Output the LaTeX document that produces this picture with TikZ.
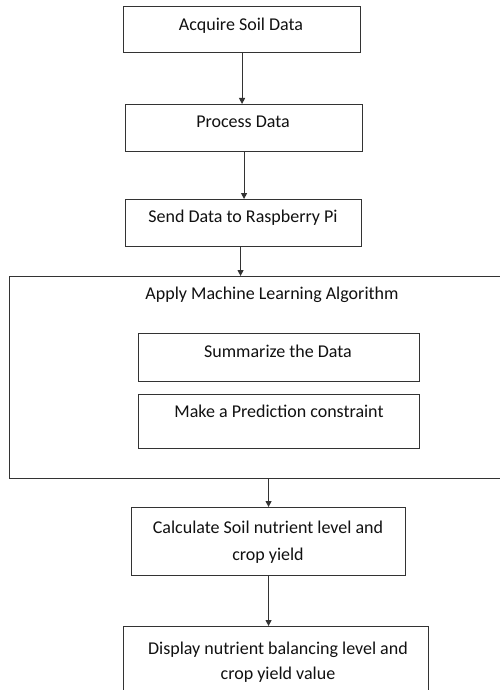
\documentclass[tikz,border=0pt]{standalone}
\usepackage{fontspec}
\setmainfont{Carlito}
\usetikzlibrary{arrows.meta}
\definecolor{linecol}{HTML}{333333}
\definecolor{txtcol}{HTML}{111111}
\begin{document}
\begin{tikzpicture}[x=1pt,y=-1pt,
  box/.style={draw=linecol,line width=1.1pt,inner sep=0pt,anchor=north west,rectangle},
  txt/.style={anchor=base,inner sep=0pt,font=\fontsize{18}{27}\selectfont,text=txtcol},
  arr/.style={draw=linecol,line width=1.1pt,-{Triangle[length=6pt,width=6pt]}}]
\fill[white] (0,0) rectangle (500,690);
\clip (0,0) rectangle (500,690);
% boxes
\node[box,minimum width=237pt,minimum height=46pt] (b1) at (123,6) {};
\node[box,minimum width=237pt,minimum height=47pt] (b2) at (125,104) {};
\node[box,minimum width=236pt,minimum height=47pt] (b3) at (125,199) {};
\node[box,minimum width=500pt,minimum height=202pt] (ml) at (9,276) {};
\node[box,minimum width=281pt,minimum height=48pt] (sum) at (138,333) {};
\node[box,minimum width=281pt,minimum height=54pt] (pred) at (138,394) {};
\node[box,minimum width=274pt,minimum height=68pt] (calc) at (131,507) {};
\node[box,minimum width=305pt,minimum height=90pt] (disp) at (123,626) {};
% texts
\node[txt] (t1) at (241,31) {Acquire Soil Data};
\node[txt] (t2) at (243,128) {Process Data};
\node[txt] (t3) at (243,222) {Send Data to Raspberry Pi};
\node[txt] (tml) at (272,299) {Apply Machine Learning Algorithm};
\node[txt] (tsum) at (278,357) {Summarize the Data};
\node[txt] (tpred) at (279,417) {Make a Prediction constraint};
\node[txt] (tcalcA) at (268,533) {Calculate Soil nutrient level and};
\node[txt] (tcalcB) at (268,560) {crop yield};
\node[txt] (tdispA) at (278,654) {Display nutrient balancing level and};
\node[txt] (tdispB) at (278,679) {crop yield value};
% arrows
\draw[arr] (b1.south) -- (b1.south |- b2.north);
\draw[arr] (b2.south) -- (b2.south |- b3.north);
\draw[arr] ([xshift=-3pt]b3.south) -- ([xshift=-3pt]b3.south |- ml.north);
\draw[arr] (calc.north |- ml.south) -- (calc.north);
\draw[arr] (calc.south) -- (calc.south |- disp.north);
\end{tikzpicture}
\end{document}
